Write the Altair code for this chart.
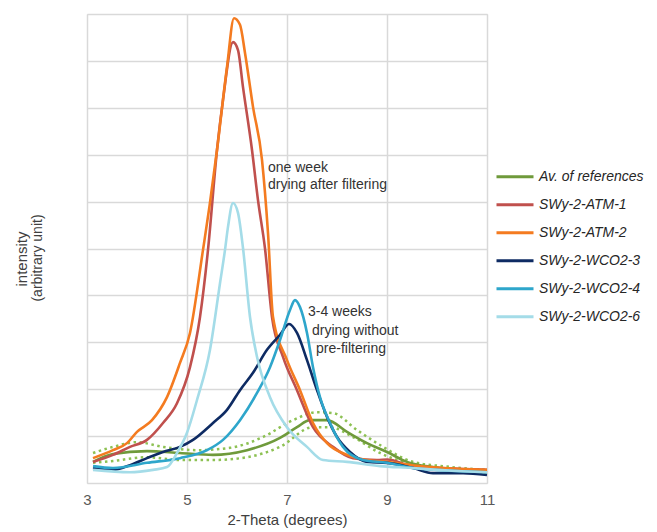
import altair as alt
import pandas as pd

FONT = "Liberation Sans"

series_names = ["Av. of references", "SWy-2-ATM-1", "SWy-2-ATM-2",
                "SWy-2-WCO2-3", "SWy-2-WCO2-4", "SWy-2-WCO2-6"]
series_colors = ["#6F9A3B", "#C0504D", "#F47B20", "#0E2B63", "#2EA6CB", "#A4DCE8"]

av_x = [3.12, 3.52, 4.2, 4.86, 5.52, 6.2, 6.86, 7.2, 7.46, 7.8, 8.2, 8.6, 9.0, 9.4, 9.92, 10.5, 11.0]
av_y = [0.45, 0.62, 0.68, 0.64, 0.60, 0.70, 0.96, 1.19, 1.34, 1.34, 1.09, 0.85, 0.66, 0.45, 0.34, 0.28, 0.23]

atm1_x = [3.12, 3.52, 3.86, 4.2, 4.52, 4.8, 5.06, 5.26, 5.42, 5.6, 5.72, 5.92, 6.02, 6.12, 6.3,
          6.42, 6.56, 6.7, 6.92, 7.2, 7.52, 7.92, 8.32, 8.8, 9.0, 9.5, 10.0, 10.5, 11.0]
atm1_y = [0.45, 0.6, 0.77, 0.92, 1.28, 1.7, 2.47, 3.54, 4.97, 7.1, 8.17, 9.4, 9.23, 8.44, 7.1,
          6.03, 5.0, 3.54, 2.69, 1.98, 1.19, 0.77, 0.53, 0.49, 0.5, 0.36, 0.32, 0.3, 0.28]

atm2_x = [3.12, 3.52, 3.8, 4.0, 4.3, 4.6, 4.86, 5.06, 5.32, 5.45, 5.6, 5.8, 5.94, 6.06, 6.16,
          6.32, 6.5, 6.62, 6.72, 7.0, 7.26, 7.52, 7.8, 8.2, 8.6, 9.0, 9.5, 10.0, 10.5, 11.0]
atm2_y = [0.53, 0.70, 0.85, 1.09, 1.34, 1.83, 2.56, 3.2, 4.97, 5.9, 7.1, 8.87, 9.91, 9.77, 9.17,
          8.02, 6.89, 5.33, 3.54, 2.62, 1.98, 1.28, 0.85, 0.6, 0.49, 0.45, 0.38, 0.33, 0.3, 0.28]

wco3_x = [3.12, 3.52, 3.86, 4.2, 4.52, 4.86, 5.12, 5.52, 5.8, 6.06, 6.32, 6.6, 6.86, 7.04, 7.2,
          7.4, 7.6, 7.8, 8.0, 8.26, 8.6, 9.0, 9.52, 9.92, 10.52, 11.0]
wco3_y = [0.32, 0.28, 0.38, 0.53, 0.66, 0.77, 0.92, 1.28, 1.56, 1.98, 2.35, 2.84, 3.16, 3.39, 3.2,
          2.62, 1.98, 1.41, 0.98, 0.66, 0.45, 0.43, 0.32, 0.21, 0.21, 0.17]

wco4_x = [3.12, 3.52, 4.2, 4.86, 5.4, 5.72, 6.06, 6.4, 6.66, 6.86, 7.06, 7.16, 7.26, 7.4, 7.52,
          7.66, 7.86, 8.12, 8.52, 9.0, 9.52, 10.0, 10.5, 11.0]
wco4_y = [0.36, 0.32, 0.43, 0.53, 0.70, 0.92, 1.34, 1.92, 2.47, 3.05, 3.69, 3.9, 3.75, 3.2, 2.47,
          1.83, 1.28, 0.77, 0.49, 0.43, 0.32, 0.28, 0.25, 0.23]

wco6_x = [3.12, 3.86, 4.32, 4.6, 4.8, 5.0, 5.2, 5.46, 5.66, 5.76, 5.82, 5.92, 6.02, 6.12, 6.26,
          6.4, 6.66, 7.0, 7.4, 7.72, 8.2, 8.86, 9.5, 10.0, 10.5, 11.0]
wco6_y = [0.28, 0.23, 0.28, 0.34, 0.64, 1.07, 1.77, 2.84, 4.26, 4.97, 5.46, 5.97, 5.76, 5.01, 3.54,
          2.69, 1.83, 1.19, 0.77, 0.49, 0.45, 0.36, 0.32, 0.28, 0.25, 0.23]

upper_x = [3.12, 3.52, 4.0, 4.52, 5.2, 5.86, 6.52, 7.12, 7.6, 7.92, 8.4, 8.86, 9.52, 10.2, 11.0]
upper_y = [0.64, 0.77, 0.87, 0.77, 0.70, 0.75, 0.98, 1.34, 1.51, 1.49, 1.13, 0.81, 0.45, 0.35, 0.28]
lower_x = [3.12, 3.52, 4.2, 4.86, 5.52, 6.2, 6.86, 7.52, 7.86, 8.32, 8.86, 9.4, 10.2, 11.0]
lower_y = [0.43, 0.47, 0.55, 0.49, 0.49, 0.55, 0.77, 1.19, 1.19, 0.98, 0.64, 0.43, 0.3, 0.21]

x_ticks = [3, 5, 7, 9, 11]
y_grid = [0, 1, 2, 3, 4, 5, 6, 7, 8, 9, 10]

ann_text = ["one week", "drying after filtering", "3-4 weeks", "drying without", "pre-filtering"]
ann_x = [6.62, 6.62, 7.42, 7.5, 7.58]
ann_y = [6.72, 6.35, 3.64, 3.24, 2.86]

main_sets = [(av_x, av_y), (atm1_x, atm1_y), (atm2_x, atm2_y),
             (wco3_x, wco3_y), (wco4_x, wco4_y), (wco6_x, wco6_y)]
rows = []
for i, (name, (xs, ys)) in enumerate(zip(series_names, main_sets)):
    for x, y in zip(xs, ys):
        rows.append({"series": name, "x": x, "y": y, "k": i})
df = pd.DataFrame(rows)

band_rows = []
for name, xs, ys in [("upper", upper_x, upper_y), ("lower", lower_x, lower_y)]:
    for x, y in zip(xs, ys):
        band_rows.append({"band": name, "x": x, "y": y})
dfb = pd.DataFrame(band_rows)

dfa = pd.DataFrame({"text": ann_text, "x": ann_x, "y": ann_y})

xenc = alt.X("x:Q", scale=alt.Scale(domain=[3, 11], nice=False, zero=False),
             axis=alt.Axis(values=x_ticks, title="2-Theta (degrees)", grid=True,
                           gridColor="#d9d9d9", gridWidth=1.5, domain=False, ticks=False,
                           labelFontSize=15, labelColor="#595959", labelFont=FONT,
                           labelFlush=False, labelPadding=9, titleFontSize=15,
                           titleColor="#404040", titleFont=FONT, titleFontWeight="normal",
                           titlePadding=5))
yenc = alt.Y("y:Q", scale=alt.Scale(domain=[0, 10], nice=False),
             axis=alt.Axis(values=y_grid, labels=False, ticks=False, domain=False,
                           title=None, grid=True, gridColor="#d9d9d9", gridWidth=1.5))

bands = alt.Chart(dfb).mark_line(strokeWidth=2.5, strokeDash=[2.5, 3.5], color="#8DC153",
                                 interpolate="monotone").encode(
    x=xenc, y=yenc, detail="band:N")

lines = alt.Chart(df).mark_line(strokeWidth=2.6, interpolate="monotone").encode(
    x=xenc, y=yenc,
    color=alt.Color("series:N", sort=series_names,
                    scale=alt.Scale(domain=series_names, range=series_colors),
                    legend=alt.Legend(title=None, orient="none", legendX=408, legendY=149,
                                      symbolType="stroke", symbolSize=1369,
                                      symbolStrokeWidth=3, clipHeight=27.4, rowPadding=0,
                                      labelFontSize=14, labelFontStyle="italic",
                                      labelFont=FONT, labelColor="#262626", labelOffset=4,
                                      labelLimit=200)),
    order="k:Q",
)

ann = alt.Chart(dfa).mark_text(align="left", baseline="middle", fontSize=14, font=FONT,
                               color="#333333").encode(
    x=alt.X("x:Q"), y=alt.Y("y:Q"), text="text:N")

ytitle1 = alt.Chart(pd.DataFrame({"t": ["intensity"]})).mark_text(
    angle=270, fontSize=15, font=FONT, color="#404040", baseline="middle", align="center").encode(
    x=alt.value(-65), y=alt.value(245), text="t:N")
ytitle2 = alt.Chart(pd.DataFrame({"t": ["(arbitrary unit)"]})).mark_text(
    angle=270, fontSize=14, font=FONT, color="#404040", baseline="middle", align="center").encode(
    x=alt.value(-49), y=alt.value(244), text="t:N")

chart = alt.layer(bands, lines, ann, ytitle1, ytitle2).properties(
    width=400, height=469,
    padding={"left": 87, "top": 14, "right": 170, "bottom": 49},
    autosize="none",
).configure_view(stroke=None).configure(background="white")

chart.save("out.html", embed_options={"renderer": "svg", "actions": False})
